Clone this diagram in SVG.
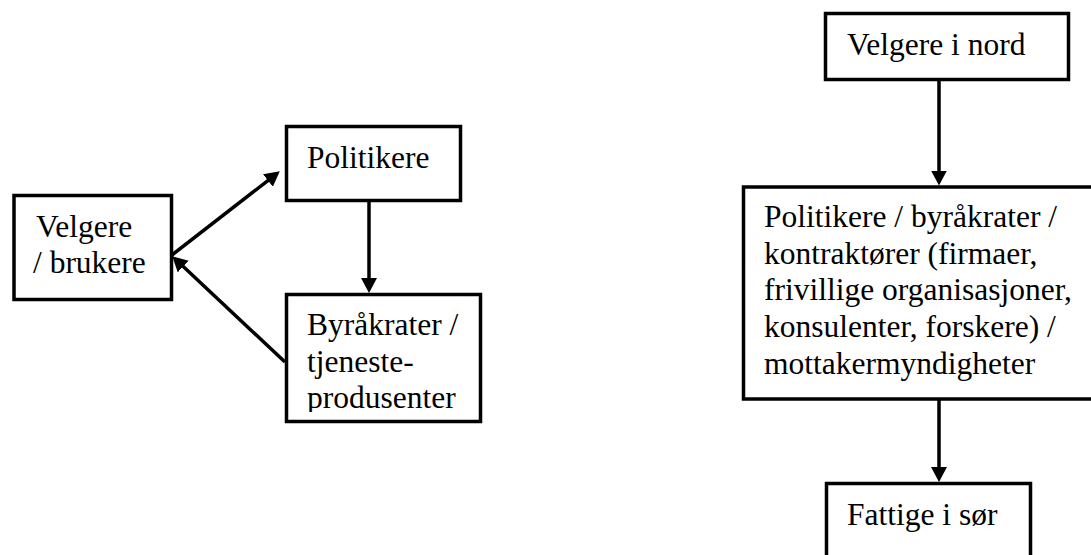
<svg xmlns="http://www.w3.org/2000/svg" width="1091" height="555" viewBox="0 0 1091 555">
<style>
.box{fill:#fff;stroke:#000;stroke-width:3.5}
.t{font-size:31.5px;fill:#000}
.c{stroke:#000;stroke-width:3.5;fill:none}
</style>
<defs>
<marker id="ah" markerUnits="userSpaceOnUse" markerWidth="18" markerHeight="18" refX="4" refY="8" orient="auto">
<path d="M0,0 L15,8 L0,16 z" fill="#000"/>
</marker>
<clipPath id="clipB"><rect x="286" y="294" width="196" height="118"/></clipPath>
</defs>
<rect width="1091" height="555" fill="#fff"/>
<g font-family="'Liberation Serif', 'Times New Roman', 'DejaVu Serif', serif">
<g id="velgere">
<rect class="box" x="14" y="195.5" width="157.5" height="104"/>
<text class="t" x="36" y="237">Velgere</text>
<text class="t" x="33" y="273">/ brukere</text>
</g>
<g id="politikere">
<rect class="box" x="286.5" y="126.5" width="174" height="74"/>
<text class="t" x="307" y="168">Politikere</text>
</g>
<g id="byrakrater">
<rect class="box" x="286.5" y="294.5" width="194" height="127"/>
<g clip-path="url(#clipB)">
<text class="t" x="307" y="335">Byråkrater /</text>
<text class="t" x="307" y="372">tjeneste-</text>
<text class="t" x="307" y="408">produsenter</text>
</g>
</g>
<g id="velgere-nord">
<rect class="box" x="825.5" y="13.5" width="243" height="66"/>
<text class="t" x="847" y="55">Velgere i nord</text>
</g>
<g id="aktorer">
<rect class="box" x="743.5" y="187" width="352" height="212"/>
<text class="t" x="764" y="227">Politikere / byråkrater /</text>
<text class="t" x="764" y="264">kontraktører (firmaer,</text>
<text class="t" x="764" y="300">frivillige organisasjoner,</text>
<text class="t" x="764" y="337">konsulenter, forskere) /</text>
<text class="t" x="764" y="374">mottakermyndigheter</text>
</g>
<g id="fattige">
<rect class="box" x="826.5" y="483.5" width="204" height="100"/>
<text class="t" x="847" y="525">Fattige i sør</text>
</g>
</g>
<g id="connectors">
<line class="c" x1="172" y1="255" x2="271.1" y2="178.1" marker-end="url(#ah)"/>
<line class="c" x1="285" y1="362" x2="180.3" y2="263.8" marker-end="url(#ah)"/>
<line class="c" x1="369" y1="202" x2="369" y2="282" marker-end="url(#ah)"/>
<line class="c" x1="939" y1="81" x2="939" y2="174.5" marker-end="url(#ah)"/>
<line class="c" x1="939" y1="400" x2="939" y2="471" marker-end="url(#ah)"/>
</g>
</svg>
